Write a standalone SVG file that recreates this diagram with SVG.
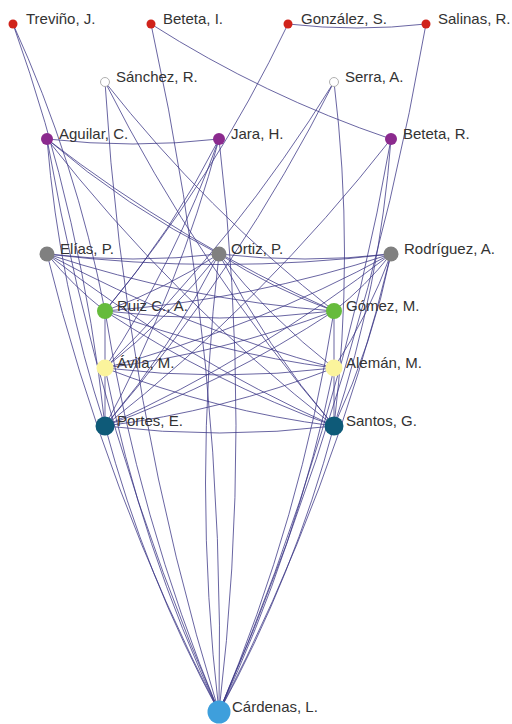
<svg xmlns="http://www.w3.org/2000/svg" width="512" height="724" viewBox="0 0 512 724">
<style>
.e{fill:none;stroke:#3a3585;stroke-width:0.9;stroke-opacity:0.85}
.l{font-family:"Liberation Sans",Arial,sans-serif;font-size:15px;fill:#333}
.red{fill:#d0231b}
.wht{fill:#fff;stroke:#b0b0b0;stroke-width:1}
.pur{fill:#8b2a8e}
.gry{fill:#808080}
.grn{fill:#66bb3c}
.yel{fill:#fbf49c}
.tea{fill:#0e5a78}
.blu{fill:#3e9fdc}
</style>
<rect width="512" height="724" fill="#fff"/>
<g id="connectors">
<path class="e" d="M13,24 Q76,162 105,311"/>
<path class="e" d="M13,24 Q83,220 105,426"/>
<path class="e" d="M151,24 Q264,96 391,139"/>
<path class="e" d="M151,24 Q226,364 219,712"/>
<path class="e" d="M288,24 Q357,32 426,24"/>
<path class="e" d="M105,311 Q214,179 288,24"/>
<path class="e" d="M219,712 Q364,380 426,24"/>
<path class="e" d="M105,82 Q206,210 334,311"/>
<path class="e" d="M105,82 Q124,404 219,712"/>
<path class="e" d="M105,82 Q199,268 334,426"/>
<path class="e" d="M105,426 Q240,268 334,82"/>
<path class="e" d="M105,368 Q237,239 334,82"/>
<path class="e" d="M334,82 Q355,254 334,426"/>
<path class="e" d="M47,139 Q133,149 219,139"/>
<path class="e" d="M47,139 Q126,207 219,254"/>
<path class="e" d="M47,139 Q180,242 334,311"/>
<path class="e" d="M47,139 Q173,300 334,426"/>
<path class="e" d="M47,139 Q59,286 105,426"/>
<path class="e" d="M47,139 Q99,436 219,712"/>
<path class="e" d="M105,368 Q176,260 219,139"/>
<path class="e" d="M105,426 Q179,289 219,139"/>
<path class="e" d="M219,139 Q253,426 219,712"/>
<path class="e" d="M105,311 Q172,232 219,139"/>
<path class="e" d="M334,426 Q380,286 391,139"/>
<path class="e" d="M219,712 Q339,436 391,139"/>
<path class="e" d="M105,426 Q265,300 391,139"/>
<path class="e" d="M47,254 Q133,264 219,254"/>
<path class="e" d="M47,254 Q219,275 391,254"/>
<path class="e" d="M47,254 Q73,286 105,311"/>
<path class="e" d="M47,254 Q187,300 334,311"/>
<path class="e" d="M47,254 Q184,328 334,368"/>
<path class="e" d="M47,254 Q180,357 334,426"/>
<path class="e" d="M47,254 Q106,493 219,712"/>
<path class="e" d="M105,311 L105,368"/>
<path class="e" d="M105,311 Q220,325 334,311"/>
<path class="e" d="M105,311 Q216,353 334,368"/>
<path class="e" d="M105,311 Q213,382 334,426"/>
<path class="e" d="M105,311 Q251,300 391,254"/>
<path class="e" d="M105,311 Q138,518 219,712"/>
<path class="e" d="M105,311 Q165,289 219,254"/>
<path class="e" d="M105,368 L105,426"/>
<path class="e" d="M105,368 Q220,382 334,368"/>
<path class="e" d="M105,368 Q223,353 334,311"/>
<path class="e" d="M105,368 Q216,411 334,426"/>
<path class="e" d="M105,368 Q255,328 391,254"/>
<path class="e" d="M105,368 Q169,318 219,254"/>
<path class="e" d="M105,368 Q141,547 219,712"/>
<path class="e" d="M105,426 Q220,440 334,426"/>
<path class="e" d="M105,426 Q226,382 334,311"/>
<path class="e" d="M105,426 Q223,411 334,368"/>
<path class="e" d="M105,426 Q258,357 391,254"/>
<path class="e" d="M105,426 Q145,576 219,712"/>
<path class="e" d="M105,426 Q172,347 219,254"/>
<path class="e" d="M219,254 Q305,264 391,254"/>
<path class="e" d="M219,254 Q273,289 334,311"/>
<path class="e" d="M219,254 Q270,318 334,368"/>
<path class="e" d="M219,254 Q266,347 334,426"/>
<path class="e" d="M219,254 Q192,483 219,712"/>
<path class="e" d="M334,311 L334,368"/>
<path class="e" d="M334,311 Q366,286 391,254"/>
<path class="e" d="M219,712 Q301,518 334,311"/>
<path class="e" d="M334,368 L334,426"/>
<path class="e" d="M334,368 Q369,314 391,254"/>
<path class="e" d="M219,712 Q297,547 334,368"/>
<path class="e" d="M334,426 Q373,343 391,254"/>
<path class="e" d="M219,712 Q294,576 334,426"/>
<path class="e" d="M219,712 Q333,493 391,254"/>
</g>
<g id="trevino"><circle class="red" cx="13" cy="24" r="4.5"/><text class="l" x="26" y="24">Treviño, J.</text></g>
<g id="beteta-i"><circle class="red" cx="151" cy="24" r="4.5"/><text class="l" x="163" y="24">Beteta, I.</text></g>
<g id="gonzalez"><circle class="red" cx="288" cy="24" r="4.5"/><text class="l" x="301" y="24">González, S.</text></g>
<g id="salinas"><circle class="red" cx="426" cy="24" r="4.5"/><text class="l" x="438" y="24">Salinas, R.</text></g>
<g id="sanchez"><circle class="wht" cx="105" cy="82" r="4.5"/><text class="l" x="116" y="82">Sánchez, R.</text></g>
<g id="serra"><circle class="wht" cx="334" cy="82" r="4.5"/><text class="l" x="345" y="82">Serra, A.</text></g>
<g id="aguilar"><circle class="pur" cx="47" cy="139" r="6"/><text class="l" x="59" y="139">Aguilar, C.</text></g>
<g id="jara"><circle class="pur" cx="219" cy="139" r="6"/><text class="l" x="231" y="139">Jara, H.</text></g>
<g id="beteta-r"><circle class="pur" cx="391" cy="139" r="6"/><text class="l" x="403" y="139">Beteta, R.</text></g>
<g id="elias"><circle class="gry" cx="47" cy="254" r="7.5"/><text class="l" x="60" y="254">Elías, P.</text></g>
<g id="ortiz"><circle class="gry" cx="219" cy="254" r="7.5"/><text class="l" x="231" y="254">Ortiz, P.</text></g>
<g id="rodriguez"><circle class="gry" cx="391" cy="254" r="7.5"/><text class="l" x="404" y="254">Rodríguez, A.</text></g>
<g id="ruiz"><circle class="grn" cx="105" cy="311" r="8"/><text class="l" x="117" y="311">Ruiz C., A.</text></g>
<g id="gomez"><circle class="grn" cx="334" cy="311" r="8"/><text class="l" x="346" y="311">Gómez, M.</text></g>
<g id="avila"><circle class="yel" cx="105" cy="368" r="8.5"/><text class="l" x="117" y="368">Ávila, M.</text></g>
<g id="aleman"><circle class="yel" cx="334" cy="368" r="8.5"/><text class="l" x="346" y="368">Alemán, M.</text></g>
<g id="portes"><circle class="tea" cx="105" cy="426" r="9.5"/><text class="l" x="117" y="426">Portes, E.</text></g>
<g id="santos"><circle class="tea" cx="334" cy="426" r="9.5"/><text class="l" x="346" y="426">Santos, G.</text></g>
<g id="cardenas"><circle class="blu" cx="219" cy="712" r="11.5"/><text class="l" x="232" y="712">Cárdenas, L.</text></g>
</svg>
